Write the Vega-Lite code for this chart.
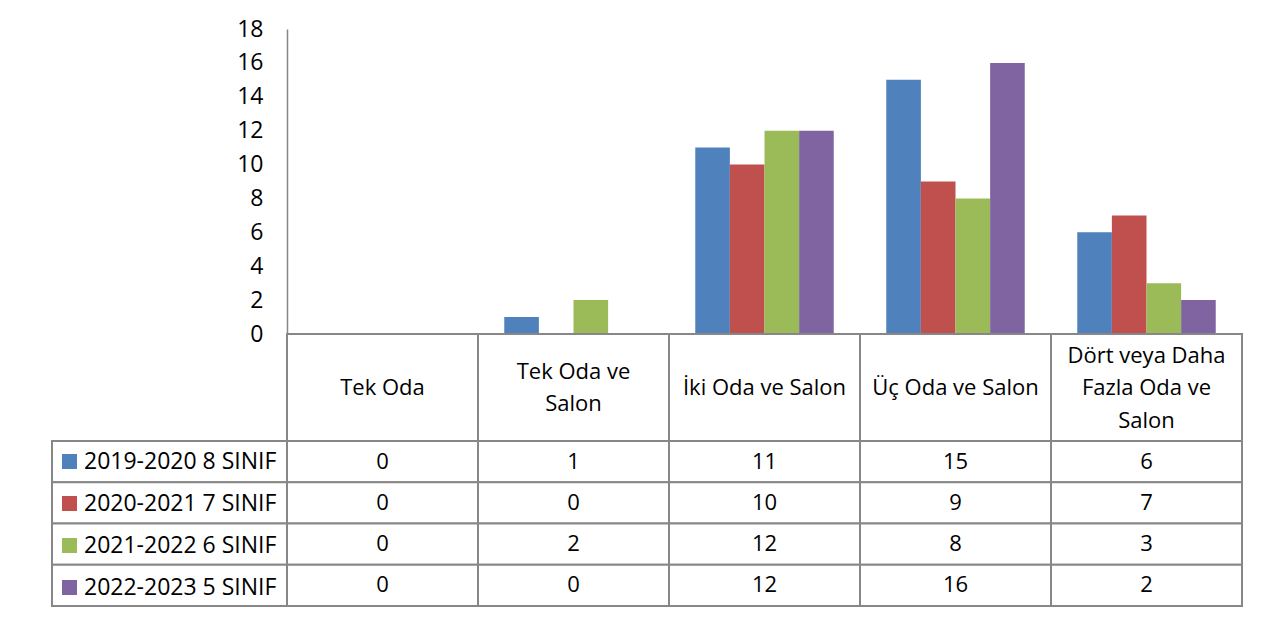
{
  "$schema": "https://vega.github.io/schema/vega-lite/v6.json",
  "padding": {"left": 51, "top": 18, "right": 0, "bottom": 0},
  "background": "white",
  "config": {"view": {"stroke": null}, "font": "Open Sans"},
  "datasets": {
    "vals": [
      {"cat": "Tek Oda", "series": "2019-2020 8 SINIF", "value": 0},
      {"cat": "Tek Oda ve Salon", "series": "2019-2020 8 SINIF", "value": 1},
      {"cat": "İki Oda ve Salon", "series": "2019-2020 8 SINIF", "value": 11},
      {"cat": "Üç Oda ve Salon", "series": "2019-2020 8 SINIF", "value": 15},
      {"cat": "Dört veya Daha Fazla Oda ve Salon", "series": "2019-2020 8 SINIF", "value": 6},
      {"cat": "Tek Oda", "series": "2020-2021 7 SINIF", "value": 0},
      {"cat": "Tek Oda ve Salon", "series": "2020-2021 7 SINIF", "value": 0},
      {"cat": "İki Oda ve Salon", "series": "2020-2021 7 SINIF", "value": 10},
      {"cat": "Üç Oda ve Salon", "series": "2020-2021 7 SINIF", "value": 9},
      {"cat": "Dört veya Daha Fazla Oda ve Salon", "series": "2020-2021 7 SINIF", "value": 7},
      {"cat": "Tek Oda", "series": "2021-2022 6 SINIF", "value": 0},
      {"cat": "Tek Oda ve Salon", "series": "2021-2022 6 SINIF", "value": 2},
      {"cat": "İki Oda ve Salon", "series": "2021-2022 6 SINIF", "value": 12},
      {"cat": "Üç Oda ve Salon", "series": "2021-2022 6 SINIF", "value": 8},
      {"cat": "Dört veya Daha Fazla Oda ve Salon", "series": "2021-2022 6 SINIF", "value": 3},
      {"cat": "Tek Oda", "series": "2022-2023 5 SINIF", "value": 0},
      {"cat": "Tek Oda ve Salon", "series": "2022-2023 5 SINIF", "value": 0},
      {"cat": "İki Oda ve Salon", "series": "2022-2023 5 SINIF", "value": 12},
      {"cat": "Üç Oda ve Salon", "series": "2022-2023 5 SINIF", "value": 16},
      {"cat": "Dört veya Daha Fazla Oda ve Salon", "series": "2022-2023 5 SINIF", "value": 2}
    ],
    "cats": [
      {"cat": "Tek Oda", "label": "Tek Oda"},
      {"cat": "Tek Oda ve Salon", "label": "Tek Oda ve\nSalon"},
      {"cat": "İki Oda ve Salon", "label": "İki Oda ve Salon"},
      {"cat": "Üç Oda ve Salon", "label": "Üç Oda ve Salon"},
      {"cat": "Dört veya Daha Fazla Oda ve Salon", "label": "Dört veya Daha\nFazla Oda ve\nSalon"}
    ],
    "series": [
      {"series": "2019-2020 8 SINIF"},
      {"series": "2020-2021 7 SINIF"},
      {"series": "2021-2022 6 SINIF"},
      {"series": "2022-2023 5 SINIF"}
    ]
  },
  "columns": 2,
  "spacing": 0,
  "bounds": "flush",
  "align": "each",
  "resolve": {"scale": {"x": "independent", "y": "independent", "color": "independent"}, "legend": {"color": "independent"}},
  "concat": [
    {
      "width": 235, "height": 305,
      "data": {"values": [{"a": 1}]},
      "mark": {"type": "text", "text": ""},
      "encoding": {}
    },
    {
      "width": 955, "height": 305,
      "data": {"name": "vals"},
      "mark": {"type": "bar"},
      "encoding": {
        "x": {"field": "cat", "type": "nominal", "sort": ["Tek Oda", "Tek Oda ve Salon", "İki Oda ve Salon", "Üç Oda ve Salon", "Dört veya Daha Fazla Oda ve Salon"], "scale": {"paddingInner": 0.275, "paddingOuter": 0.1375}, "axis": null},
        "xOffset": {"field": "series", "type": "nominal", "sort": ["2019-2020 8 SINIF", "2020-2021 7 SINIF", "2021-2022 6 SINIF", "2022-2023 5 SINIF"], "scale": {"paddingInner": 0, "paddingOuter": 0}},
        "y": {"field": "value", "type": "quantitative", "scale": {"domain": [0, 18], "nice": false},
          "axis": {"values": [0, 2, 4, 6, 8, 10, 12, 14, 16, 18], "grid": false, "ticks": false, "tickSize": 0, "domainColor": "#868686", "domainWidth": 1.5, "labelFontSize": 23, "labelFont": "Open Sans", "labelColor": "black", "labelPadding": 24, "title": null}},
        "color": {"field": "series", "type": "nominal", "scale": {"domain": ["2019-2020 8 SINIF", "2020-2021 7 SINIF", "2021-2022 6 SINIF", "2022-2023 5 SINIF"], "range": ["#4F81BD", "#C0504D", "#9BBB59", "#8064A2"]}, "legend": null}
      }
    },
    {
      "width": 235, "height": 107,
      "data": {"values": [{"a": 1}]},
      "mark": {"type": "text", "text": ""},
      "encoding": {}
    },
    {
      "width": 955, "height": 107,
      "data": {"name": "cats"},
      "encoding": {
        "x": {"field": "cat", "type": "nominal", "sort": ["Tek Oda", "Tek Oda ve Salon", "İki Oda ve Salon", "Üç Oda ve Salon", "Dört veya Daha Fazla Oda ve Salon"], "scale": {"paddingInner": 0, "paddingOuter": 0}, "axis": null}
      },
      "layer": [
        {"mark": {"type": "rect", "fill": "white", "stroke": "#878787", "strokeWidth": 2}},
        {"transform": [{"filter": "length(split(datum.label, '\\n')) == 1"}],
         "mark": {"type": "text", "fontSize": 22, "font": "Open Sans", "lineBreak": "\n", "lineHeight": 32.5, "color": "black"}, "encoding": {"text": {"field": "label"}}},
        {"transform": [{"filter": "length(split(datum.label, '\\n')) == 2"}],
         "mark": {"type": "text", "fontSize": 22, "font": "Open Sans", "lineBreak": "\n", "lineHeight": 32.5, "dy": -16, "color": "black"}, "encoding": {"text": {"field": "label"}}},
        {"transform": [{"filter": "length(split(datum.label, '\\n')) == 3"}],
         "mark": {"type": "text", "fontSize": 22, "font": "Open Sans", "lineBreak": "\n", "lineHeight": 32.5, "dy": -32, "color": "black"}, "encoding": {"text": {"field": "label"}}}
      ]
    },
    {
      "width": 235, "height": 165,
      "data": {"name": "series"},
      "layer": [
        {"mark": {"type": "rect", "fill": "white", "stroke": "#878787", "strokeWidth": 2},
         "encoding": {"y": {"field": "series", "type": "nominal", "sort": ["2019-2020 8 SINIF", "2020-2021 7 SINIF", "2021-2022 6 SINIF", "2022-2023 5 SINIF"], "scale": {"paddingInner": 0, "paddingOuter": 0}, "axis": null}}},
        {"mark": {"type": "square", "opacity": 0},
         "encoding": {"color": {"field": "series", "type": "nominal", "scale": {"domain": ["2019-2020 8 SINIF", "2020-2021 7 SINIF", "2021-2022 6 SINIF", "2022-2023 5 SINIF"], "range": ["#4F81BD", "#C0504D", "#9BBB59", "#8064A2"]},
           "legend": {"orient": "top-left", "offset": 9, "padding": 0, "direction": "vertical", "title": null, "symbolType": "square", "symbolSize": 225, "symbolOpacity": 1, "symbolStrokeWidth": 0, "symbolOffset": -3, "labelFontSize": 23, "labelFont": "Open Sans", "labelColor": "black", "labelOffset": 3, "labelLimit": 0, "rowPadding": 18}}}}
      ]
    },
    {
      "width": 955, "height": 165,
      "data": {"name": "vals"},
      "encoding": {
        "x": {"field": "cat", "type": "nominal", "sort": ["Tek Oda", "Tek Oda ve Salon", "İki Oda ve Salon", "Üç Oda ve Salon", "Dört veya Daha Fazla Oda ve Salon"], "scale": {"paddingInner": 0, "paddingOuter": 0}, "axis": null},
        "y": {"field": "series", "type": "nominal", "sort": ["2019-2020 8 SINIF", "2020-2021 7 SINIF", "2021-2022 6 SINIF", "2022-2023 5 SINIF"], "scale": {"paddingInner": 0, "paddingOuter": 0}, "axis": null}
      },
      "layer": [
        {"mark": {"type": "rect", "fill": "white", "stroke": "#878787", "strokeWidth": 2}},
        {"mark": {"type": "text", "fontSize": 22, "font": "Open Sans", "color": "black"}, "encoding": {"text": {"field": "value", "type": "quantitative"}}}
      ]
    }
  ]
}
